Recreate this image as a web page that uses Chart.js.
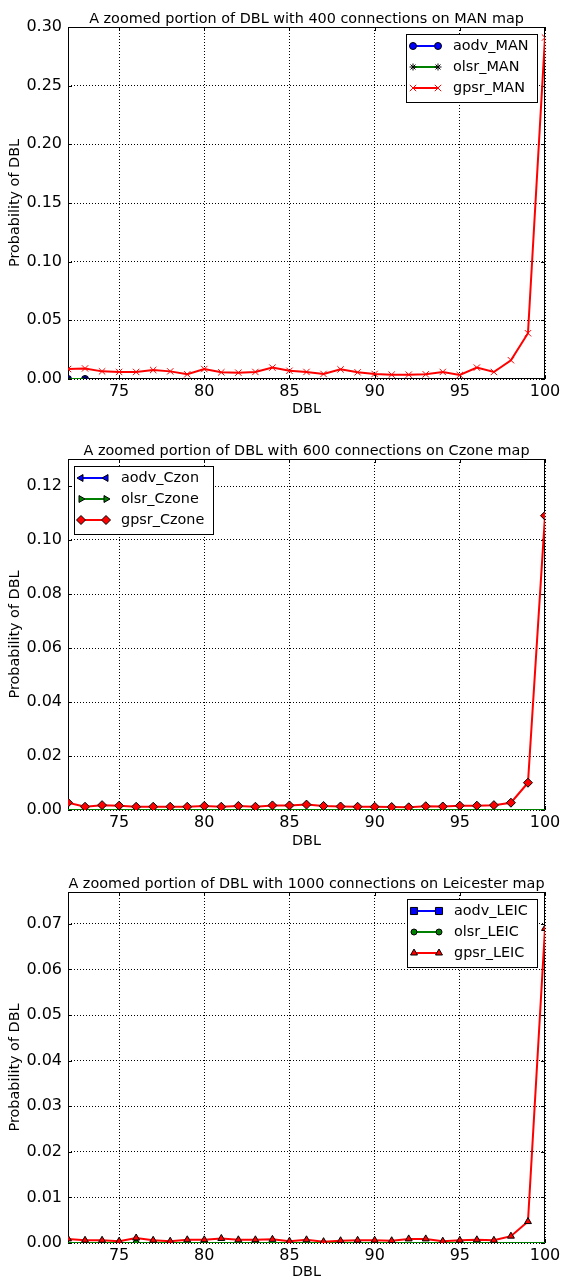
<!DOCTYPE html>
<html lang="en">
<head>
<meta charset="UTF-8">
<title>Zoomed portion of DBL</title>
<script src="https://cdn.jsdelivr.net/npm/chart.js"></script>
<style>
    body { margin: 0; background: #fff; }
    .wrap { position: relative; width: 561px; height: 1281px; }
    canvas { position: absolute; left: 0; }
</style>
</head>
<body>
<div class="wrap">
    <canvas id="manChart" width="561" height="430" style="top:0"></canvas>
    <canvas id="czoneChart" width="561" height="430" style="top:430px"></canvas>
    <canvas id="leicChart" width="561" height="421" style="top:860px"></canvas>
</div>

<script>
// DBL values on the x axis
const dbl = [72, 73, 74, 75, 76, 77, 78, 79, 80, 81, 82, 83, 84, 85, 86, 87, 88, 89, 90, 91, 92, 93, 94, 95, 96, 97, 98, 99, 100];
const xTicks = [75, 80, 85, 90, 95, 100];

// 400 connections, MAN map (aodv / olsr only reach 72-73)
const aodvMan = [0, 0];
const olsrMan = [0, 0];
const gpsrMan = [0.0085, 0.009, 0.0065, 0.006, 0.006, 0.0077, 0.0065, 0.004, 0.0085, 0.0057, 0.0054, 0.006, 0.0097, 0.007,
                 0.006, 0.0043, 0.0082, 0.0057, 0.0043, 0.0037, 0.0037, 0.004, 0.006, 0.0034, 0.0097, 0.006, 0.016, 0.039, 0.291];
const manYTicks = [0, 0.05, 0.10, 0.15, 0.20, 0.25, 0.30];

// 600 connections, Czone map
const aodvCzone = [0, 0, 0, 0, 0, 0, 0, 0, 0, 0, 0, 0, 0, 0, 0, 0, 0, 0, 0, 0, 0, 0, 0, 0, 0, 0, 0, 0, 0];
const olsrCzone = [0, 0, 0, 0, 0, 0, 0, 0, 0, 0, 0, 0, 0, 0, 0, 0, 0, 0, 0, 0, 0, 0, 0, 0, 0, 0, 0, 0, 0];
const gpsrCzone = [0.0027, 0.0012, 0.0018, 0.0016, 0.0012, 0.0012, 0.0012, 0.0012, 0.0015, 0.0012, 0.0015, 0.0012, 0.0017, 0.0017,
                   0.002, 0.0015, 0.0013, 0.0012, 0.0012, 0.0011, 0.001, 0.0014, 0.0013, 0.0016, 0.0016, 0.0018, 0.0027, 0.0101, 0.109];
const czoneYTicks = [0, 0.02, 0.04, 0.06, 0.08, 0.10, 0.12];

// 1000 connections, Leicester map
const aodvLeic = [0, 0, 0, 0, 0, 0, 0, 0, 0, 0, 0, 0, 0, 0, 0, 0, 0, 0, 0, 0, 0, 0, 0, 0, 0, 0, 0, 0, 0];
const olsrLeic = [0, 0, 0, 0, 0, 0, 0, 0, 0, 0, 0, 0, 0, 0, 0, 0, 0, 0, 0, 0, 0, 0, 0, 0, 0, 0, 0, 0, 0];
const gpsrLeic = [0.0009, 0.0006, 0.0006, 0.0004, 0.0011, 0.0006, 0.0004, 0.0007, 0.0007, 0.001, 0.0007, 0.0007, 0.0008, 0.0004,
                  0.0007, 0.0003, 0.0005, 0.0006, 0.0006, 0.0005, 0.0009, 0.0009, 0.0004, 0.0006, 0.0007, 0.0006, 0.0015, 0.0047, 0.069];
const leicYTicks = [0, 0.01, 0.02, 0.03, 0.04, 0.05, 0.06, 0.07];

// DBL values where the zero-valued olsr markers actually show up
const olsrLeicMarks = [76, 80, 83];

const FONT = '"DejaVu Sans", sans-serif';
Chart.defaults.font.family = FONT;
Chart.defaults.color = '#000';

// box frame + inward ticks on all four sides, drawn under the lines
const framePlugin = {
    id: 'frame',
    beforeDatasetsDraw(chart) {
        const { ctx, chartArea: a, scales } = chart;
        ctx.save();
        ctx.strokeStyle = '#000';
        ctx.lineWidth = 1;
        ctx.beginPath();
        scales.x.ticks.forEach(function (t) {
            const px = Math.round(scales.x.getPixelForValue(t.value)) + 0.5;
            ctx.moveTo(px, a.bottom); ctx.lineTo(px, a.bottom - 4);
            ctx.moveTo(px, a.top); ctx.lineTo(px, a.top + 4);
        });
        scales.y.ticks.forEach(function (t) {
            const py = Math.round(scales.y.getPixelForValue(t.value)) + 0.5;
            ctx.moveTo(a.left, py); ctx.lineTo(a.left + 4, py);
            ctx.moveTo(a.right, py); ctx.lineTo(a.right - 4, py);
        });
        ctx.stroke();
        ctx.strokeRect(a.left + 0.5, a.top + 0.5, a.right - a.left - 1, a.bottom - a.top - 1);
        ctx.restore();
    }
};

// title centred over the axes, like matplotlib
const axesTitle = {
    id: 'axesTitle',
    afterDraw(chart, args, opts) {
        const { ctx, chartArea: a } = chart;
        ctx.save();
        ctx.font = '14.4px ' + FONT;
        ctx.fillStyle = '#000';
        ctx.textAlign = 'center';
        ctx.textBaseline = 'alphabetic';
        ctx.fillText(opts.text, (a.left + a.right) / 2, a.top - 4);
        ctx.restore();
    }
};

// legend box inside the axes, two markers per sample line
const boxLegend = {
    id: 'boxLegend',
    afterDraw(chart, args, opts) {
        const { ctx, chartArea: a } = chart;
        const sets = chart.data.datasets;
        ctx.save();
        ctx.font = '14.4px ' + FONT;
        const textW = Math.max.apply(null, sets.map(function (d) { return ctx.measureText(d.label).width; }));
        const w = Math.round(7 + 25 + 15 + textW + 9);
        const h = 68;
        const x = Math.round(opts.corner === 'left' ? a.left + 6 : a.right - 8 - w);
        const y = Math.round(a.top + 7);
        ctx.fillStyle = '#fff';
        ctx.fillRect(x, y, w, h);
        ctx.strokeStyle = '#000';
        ctx.lineWidth = 1;
        ctx.strokeRect(x + 0.5, y + 0.5, w, h);
        sets.forEach(function (d, i) {
            const ry = y + 12 + i * 21;
            ctx.strokeStyle = d.borderColor;
            ctx.lineWidth = 2;
            ctx.beginPath();
            ctx.moveTo(x + 7, ry);
            ctx.lineTo(x + 32, ry);
            ctx.stroke();
            [x + 7, x + 32].forEach(function (mx) {
                ctx.fillStyle = d.pointBackgroundColor;
                ctx.strokeStyle = d.pointBorderColor;
                ctx.lineWidth = 1;
                Chart.helpers.drawPoint(ctx, {
                    pointStyle: d.pointStyle, rotation: d.pointRotation,
                    radius: d.legendRadius, borderWidth: 1
                }, mx, ry);
            });
            ctx.fillStyle = '#000';
            ctx.textBaseline = 'middle';
            ctx.textAlign = 'left';
            ctx.fillText(d.label, x + 47, ry);
        });
        ctx.restore();
    }
};

function buildChart(canvasId, cfg) {
    const n = cfg.series.length;
    const datasets = cfg.series.map(function (s, i) {
        return {
            label: s.label,
            data: s.values.map(function (v, k) { return { x: dbl[k], y: v }; }),
            borderColor: s.color,
            backgroundColor: s.color,
            borderWidth: 2,
            pointStyle: s.marker,
            pointRotation: s.rotation || 0,
            legendRadius: s.radius,
            pointRadius: function (c) {
                if (!s.marks) return s.radius;
                return s.marks.indexOf(dbl[c.dataIndex]) >= 0 ? s.radius : 0;
            },
            pointBackgroundColor: s.fill,
            pointBorderColor: s.edge,
            pointBorderWidth: 1,
            order: n - i,   // later series drawn on top
            tension: 0
        };
    });

    new Chart(document.getElementById(canvasId), {
        type: 'line',
        data: { datasets: datasets },
        plugins: [framePlugin, axesTitle, boxLegend],
        options: {
            responsive: false,
            animation: false,
            layout: { padding: { top: cfg.axesTop, right: 16, bottom: 0, left: 0 } },
            plugins: {
                legend: { display: false },
                tooltip: { enabled: false },
                axesTitle: { text: cfg.title },
                boxLegend: { corner: cfg.legendCorner }
            },
            scales: {
                x: {
                    type: 'linear',
                    min: 72,
                    max: 100,
                    afterBuildTicks: function (scale) { scale.ticks = xTicks.map(function (v) { return { value: v }; }); },
                    afterFit: function (scale) {
                        scale.height = cfg.xAxisHeight;
                        scale.paddingLeft = 0;
                        scale.paddingRight = 0;
                    },
                    grid: { color: '#000', lineWidth: 1, drawTicks: false },
                    border: { display: false, dash: [1, 2] },
                    ticks: { color: '#000', font: { size: 16 }, padding: 3, maxRotation: 0, autoSkip: false },
                    title: { display: true, text: 'DBL', color: '#000', font: { size: 14.4 }, padding: { top: 0, bottom: cfg.xTitlePad } }
                },
                y: {
                    type: 'linear',
                    min: 0,
                    max: cfg.yMax,
                    afterBuildTicks: function (scale) { scale.ticks = cfg.yTicks.map(function (v) { return { value: v }; }); },
                    afterFit: function (scale) {
                        scale.width = 68;
                        scale.paddingTop = 0;
                        scale.paddingBottom = 0;
                    },
                    grid: { color: '#000', lineWidth: 1, drawTicks: false },
                    border: { display: false, dash: [1, 2] },
                    ticks: {
                        color: '#000', font: { size: 16 }, padding: 6, autoSkip: false,
                        callback: function (v) { return v.toFixed(2); }
                    },
                    title: { display: true, text: 'Probability of DBL', color: '#000', font: { size: 14.4 }, padding: { top: 7, bottom: 0 } }
                }
            }
        }
    });
}

buildChart('manChart', {
    title: 'A zoomed portion of DBL with 400 connections on MAN map',
    axesTop: 27, xAxisHeight: 51, xTitlePad: 12, yMax: 0.30, yTicks: manYTicks, legendCorner: 'right',
    series: [
        { label: 'aodv_MAN', values: aodvMan, color: '#0000ff', marker: 'circle', radius: 3.5, fill: '#0000ff', edge: '#000' },
        { label: 'olsr_MAN', values: olsrMan, color: '#008000', marker: 'star', radius: 3.5, fill: '#008000', edge: '#000' },
        { label: 'gpsr_MAN', values: gpsrMan, color: '#ff0000', marker: 'crossRot', radius: 4.5, fill: '#ff0000', edge: '#ff0000' }
    ]
});

buildChart('czoneChart', {
    title: 'A zoomed portion of DBL with 600 connections on Czone map',
    axesTop: 29, xAxisHeight: 50, xTitlePad: 10, yMax: 0.13, yTicks: czoneYTicks, legendCorner: 'left',
    series: [
        { label: 'aodv_Czon', values: aodvCzone, color: '#0000ff', marker: 'triangle', rotation: -90, radius: 4, fill: '#0000ff', edge: '#000', marks: [] },
        { label: 'olsr_Czone', values: olsrCzone, color: '#008000', marker: 'triangle', rotation: 90, radius: 4, fill: '#008000', edge: '#000', marks: [] },
        { label: 'gpsr_Czone', values: gpsrCzone, color: '#ff0000', marker: 'rectRot', radius: 4.5, fill: '#ff0000', edge: '#000' }
    ]
});

buildChart('leicChart', {
    title: 'A zoomed portion of DBL with 1000 connections on Leicester map',
    axesTop: 32, xAxisHeight: 38, xTitlePad: 0, yMax: 0.077, yTicks: leicYTicks, legendCorner: 'right',
    series: [
        { label: 'aodv_LEIC', values: aodvLeic, color: '#0000ff', marker: 'rect', radius: 5, fill: '#0000ff', edge: '#000', marks: [] },
        { label: 'olsr_LEIC', values: olsrLeic, color: '#008000', marker: 'circle', radius: 3, fill: '#008000', edge: '#000', marks: olsrLeicMarks },
        { label: 'gpsr_LEIC', values: gpsrLeic, color: '#ff0000', marker: 'triangle', radius: 4, fill: '#ff0000', edge: '#000' }
    ]
});
</script>
</body>
</html>
